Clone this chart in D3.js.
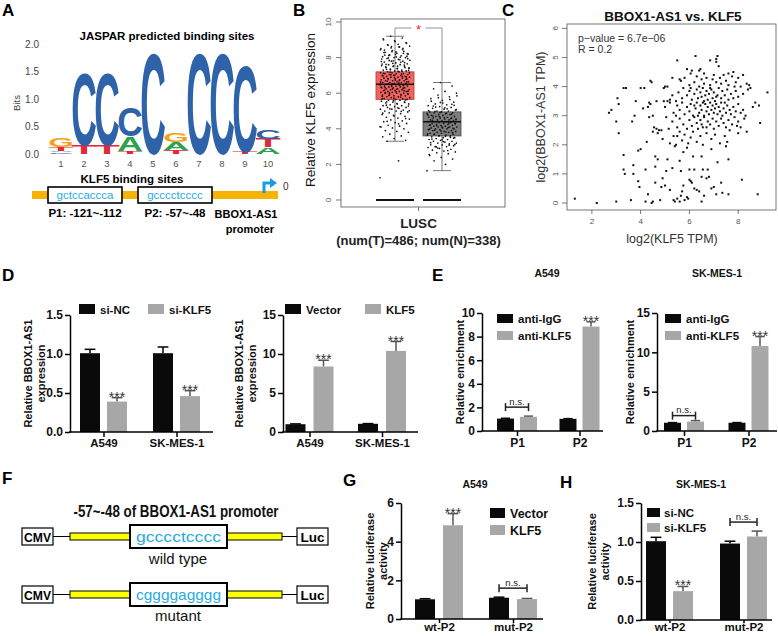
<!DOCTYPE html>
<html><head><meta charset="utf-8">
<script src="https://cdn.jsdelivr.net/npm/d3@7"></script>
<style>body{margin:0;background:#fff}svg{display:block}</style>
</head><body><svg id="c" width="778" height="636"></svg>
<script>
// ---------------- DATA ----------------
// Panel A: sequence logo (letters with information content, bottom to top)
const logoPositions = [1,2,3,4,5,6,7,8,9,10];
const logoTicks = [0, 0.5, 1.0, 1.5, 2.0];
const logoColumns = [
  [["C",0.03],["A",0.03],["T",0.06],["G",0.17]],
  [["T",0.16],["C",1.36]],
  [["T",0.16],["C",1.36]],
  [["T",0.05],["A",0.27],["C",0.53]],
  [["C",1.9]],
  [["T",0.07],["A",0.15],["G",0.16]],
  [["C",1.9]],
  [["C",1.9]],
  [["T",0.04],["C",1.62]],
  [["A",0.12],["T",0.16],["C",0.16]]
];
const siteSeqs = ["gctccaccca","gcccctcccc"];
const siteLabels = ["P1: -121~-112","P2: -57~-48"];

// Panel B: LUSC KLF5 expression (tumor vs normal)
const bGroups = ["Tumor","Normal"];
const bTicks = [0,2,4,6,8,10];
const tumorBox = [3.3, 5.65, 6.5, 7.2, 9.2];   // min, Q1, median, Q3, max
const normalBox = [1.65, 3.6, 4.4, 4.95, 6.6];
const luscTumor = [1.25,2.2,3.3,3.35,3.45,3.55,3.6,3.7,3.8,3.85,3.9,4.0,4.05,4.1,4.15,4.2,4.3,4.35,4.4,4.45,4.5,4.55,4.6,4.65,4.7,4.75,4.8,4.85,4.9,4.95,5.0,5.0,5.05,5.1,5.1,5.15,5.2,5.2,5.25,5.3,5.3,5.35,5.4,5.4,5.45,5.5,5.5,5.55,5.6,5.6,5.65,5.65,5.7,5.7,5.75,5.75,5.8,5.8,5.85,5.85,5.9,5.9,5.95,5.95,6.0,6.0,6.0,6.05,6.05,6.1,6.1,6.1,6.15,6.15,6.2,6.2,6.2,6.25,6.25,6.3,6.3,6.3,6.35,6.35,6.4,6.4,6.4,6.45,6.45,6.5,6.5,6.5,6.55,6.55,6.6,6.6,6.6,6.65,6.65,6.7,6.7,6.7,6.75,6.75,6.8,6.8,6.8,6.85,6.85,6.9,6.9,6.9,6.95,6.95,7.0,7.0,7.0,7.05,7.05,7.1,7.1,7.1,7.15,7.15,7.2,7.2,7.25,7.25,7.3,7.3,7.35,7.4,7.4,7.45,7.5,7.5,7.55,7.6,7.6,7.65,7.7,7.75,7.8,7.8,7.85,7.9,7.95,8.0,8.0,8.05,8.1,8.15,8.2,8.25,8.3,8.35,8.4,8.5,8.6,8.7,8.8,8.9,9.0,9.1,9.2,
  5.02,5.18,5.33,5.48,5.58,5.68,5.78,5.88,5.98,6.08,6.18,6.28,6.38,6.48,6.58,6.68,6.78,6.88,6.98,7.08,7.18,7.28,7.38,7.48,7.58,7.68,7.78,7.88,7.98,8.08,8.18,8.28,8.45,8.55,8.65,8.75,
  5.52,5.62,5.72,5.82,5.92,6.02,6.12,6.22,6.32,6.42,6.52,6.62,6.72,6.82,6.92,7.02,7.12,7.22,7.32,7.42,7.52,7.62,7.72,7.82,7.92,8.02,8.12,8.22,8.32,8.42,8.52,8.62,
  4.12,4.28,4.42,4.58,4.72,4.88,4.98,5.12,5.28,5.42,6.04,6.14,6.24,6.34,6.44,6.54,6.64,6.74,6.84,6.94,7.04,7.14,7.24,7.34,7.44,7.54,7.64,7.74,7.84,7.94,8.04,8.14,8.24,8.34,8.44,8.6,8.72,8.84,8.96,9.06];
const luscNormal = [1.65,2.0,2.2,2.3,2.4,2.5,2.6,2.65,2.7,2.75,2.8,2.85,2.9,2.95,3.0,3.0,3.05,3.1,3.1,3.15,3.2,3.2,3.25,3.3,3.3,3.35,3.4,3.4,3.45,3.5,3.5,3.55,3.6,3.6,3.65,3.65,3.7,3.7,3.75,3.75,3.8,3.8,3.85,3.85,3.9,3.9,3.95,3.95,4.0,4.0,4.0,4.05,4.05,4.1,4.1,4.1,4.15,4.15,4.2,4.2,4.2,4.25,4.25,4.3,4.3,4.3,4.35,4.35,4.4,4.4,4.4,4.45,4.45,4.5,4.5,4.5,4.55,4.55,4.6,4.6,4.6,4.65,4.65,4.7,4.7,4.75,4.75,4.8,4.8,4.85,4.85,4.9,4.9,4.95,4.95,5.0,5.0,5.05,5.1,5.15,5.2,5.25,5.3,5.35,5.4,5.5,5.6,5.7,5.8,5.9,6.0,6.1,6.25,6.4,6.6,
  2.55,2.78,2.98,3.12,3.28,3.42,3.52,3.62,3.72,3.82,3.92,4.02,4.12,4.22,4.32,4.42,4.52,4.62,4.72,4.82,4.92,5.02,5.12,5.22,5.32,5.45,5.55,5.65,5.75,5.85,
  3.58,3.68,3.78,3.88,3.98,4.08,4.18,4.28,4.38,4.48,4.58,4.68,4.78,4.88,4.98,3.48,3.38,3.22,3.08,2.92,5.08,5.18,5.28,5.38,5.48];

// Panel C: scatter log2(KLF5 TPM) vs log2(BBOX1-AS1 TPM)
const cXTicks = [2,4,6,8];
const cYTicks = [0,1,2,3,4,5,6];
const scatterPoints = [
[1.3,0.15],[2.2,0.0],[3.0,0.05],[2.7,3.1],[2.8,3.2],[3.0,2.8],[3.05,3.6],[3.1,2.4],[3.1,3.4],[3.3,3.95],[3.4,3.95],[3.3,1.65],[3.3,1.15],[3.35,1.0],[3.6,0.1],[3.7,1.3],[3.7,1.0],[3.65,2.8],[3.75,3.0],[3.8,3.5],[3.9,0.75],[3.95,0.55],[4.0,1.85],[4.1,3.25],[4.15,3.95],[4.2,1.15],[4.2,0.05],[4.3,0.3],[4.35,2.95],[4.35,3.45],[4.4,4.2],[4.45,4.15],[4.45,0.0],[4.5,0.05],[4.5,3.0],[4.55,2.6],[4.6,1.6],[4.6,1.25],[4.6,0.7],[4.65,3.5],[4.7,1.5],[4.7,2.4],[4.75,2.5],[4.8,0.1],[4.85,2.5],[4.85,0.55],[4.9,0.85],[4.9,2.2],[4.95,3.5],[5.0,4.0],[5.0,0.6],[5.05,1.1],[5.1,3.5],[4.4,3.4],[4.3,3.3],[4.0,3.95],[3.9,1.8],[4.25,2.1],[4.5,2.45],[4.65,2.55],
[5.5,4.9],[6.25,5.05],[6.85,4.9],[7.1,4.95],[7.15,5.05],[7.1,4.85],[5.9,4.6],[6.1,4.55],[6.4,4.55],[6.45,4.6],[6.6,4.45],[7.2,4.7],[7.8,4.5],[7.6,4.45],[6.05,4.45],
[5.6,4.25],[5.65,4.2],[5.8,4.3],[6.0,4.05],[6.2,4.15],[6.3,4.35],[6.5,4.25],[6.6,4.1],[6.7,4.3],[6.85,4.05],[6.95,4.25],[7.0,4.4],[7.1,4.15],[7.3,4.1],[7.4,4.4],[7.5,4.2],[7.6,4.05],[7.75,4.35],[7.9,4.15],[8.1,4.0],[8.2,4.4],[8.35,4.1],[8.45,4.05],[5.3,4.3],[5.1,4.0],[4.95,3.95],[6.4,4.0],[7.25,4.3],[7.85,4.0],[8.0,4.3],
[5.55,3.8],[5.7,3.6],[5.75,3.95],[5.9,3.7],[6.0,3.85],[6.1,3.55],[6.2,3.75],[6.3,3.9],[6.35,3.6],[6.45,3.8],[6.5,3.65],[6.55,3.95],[6.65,3.7],[6.7,3.85],[6.75,3.55],[6.8,3.75],[6.9,3.9],[6.95,3.6],[7.0,3.8],[7.05,3.5],[7.15,3.7],[7.2,3.95],[7.3,3.6],[7.35,3.85],[7.45,3.7],[7.55,3.9],[7.6,3.55],[7.7,3.75],[7.8,3.6],[7.9,3.85],[8.0,3.65],[8.2,3.75],[8.4,3.9],[8.5,3.95],[8.7,3.45],[9.2,3.8],[5.3,3.7],[5.2,3.55],[5.45,3.5],[6.85,3.95],[7.1,3.65],[6.05,3.95],[6.6,3.5],
[5.0,3.3],[5.2,3.45],[5.35,3.1],[5.5,3.35],[5.6,3.2],[5.7,3.45],[5.8,3.05],[5.9,3.3],[6.0,3.15],[6.05,3.4],[6.15,3.0],[6.25,3.25],[6.3,3.45],[6.4,3.1],[6.45,3.35],[6.5,3.2],[6.6,3.0],[6.65,3.4],[6.7,3.15],[6.75,3.3],[6.8,3.05],[6.85,3.45],[6.9,3.2],[6.95,3.35],[7.0,3.1],[7.05,3.25],[7.1,3.4],[7.15,3.05],[7.2,3.3],[7.25,3.15],[7.3,3.45],[7.35,3.0],[7.4,3.25],[7.5,3.1],[7.55,3.35],[7.65,3.2],[7.7,3.05],[7.8,3.3],[7.9,3.15],[8.0,3.4],[8.1,3.1],[8.2,3.2],[8.3,3.0],[8.6,3.3],[8.85,3.35],[5.45,3.0],[6.55,3.45],[6.35,3.0],[7.45,3.45],[6.2,3.35],
[5.3,2.8],[5.5,2.6],[5.6,2.9],[5.75,2.7],[5.9,2.55],[6.0,2.85],[6.1,2.65],[6.2,2.95],[6.3,2.75],[6.35,2.55],[6.45,2.85],[6.5,2.7],[6.6,2.95],[6.7,2.6],[6.75,2.8],[6.85,2.7],[6.95,2.9],[7.0,2.55],[7.1,2.8],[7.2,2.65],[7.3,2.9],[7.4,2.75],[7.5,2.6],[7.6,2.85],[7.75,2.7],[7.85,2.95],[8.0,2.8],[8.1,2.6],[8.25,2.9],[8.9,2.75],[5.05,2.95],[5.15,2.55],[6.55,2.6],[7.95,2.65],
[5.2,2.05],[5.35,2.3],[5.45,2.0],[5.6,2.45],[5.7,2.15],[5.8,2.35],[5.95,2.05],[6.05,2.25],[6.15,2.45],[6.3,2.1],[6.45,2.3],[6.55,2.0],[6.7,2.4],[6.9,2.2],[7.05,2.35],[7.25,2.05],[7.45,2.3],[7.55,2.1],[7.65,2.5],[8.0,2.4],[8.35,2.45],[5.5,2.3],[5.75,1.75],
[5.1,1.5],[5.3,1.2],[5.6,1.45],[5.65,1.1],[5.9,1.9],[6.0,1.15],[6.2,1.15],[6.5,1.6],[6.55,1.15],[6.9,1.85],[7.15,1.4],[7.6,1.5],[7.5,1.95],[5.4,1.95],[6.15,1.6],[6.75,1.15],
[5.2,0.45],[5.35,0.1],[5.4,0.05],[5.5,0.15],[5.6,0.05],[5.65,0.25],[5.7,0.4],[5.8,0.1],[5.9,0.2],[5.95,0.15],[6.0,0.8],[6.05,0.75],[6.2,0.5],[6.3,0.45],[6.4,0.4],[6.5,0.05],[6.5,0.9],[6.7,0.85],[6.8,0.9],[6.9,0.5],[7.0,0.55],[7.1,0.3],[7.35,0.35],[7.6,0.3],[8.15,0.8],[8.8,0.3],[6.1,0.7],[5.75,0.6],[6.6,0.25],[7.3,0.7]
];

// Panel D
const cellLines = ["A549","SK-MES-1"];
const d1Series = ["si-NC","si-KLF5"];
const d1Values = [[1.01,0.39],[1.01,0.46]];
const d1Errors = [[0.05,0.05],[0.08,0.07]];
const d1Ticks = [0,0.5,1.0,1.5];
const d2Series = ["Vector","KLF5"];
const d2Values = [[1.0,8.4],[1.05,10.4]];
const d2Errors = [[0.04,0.8],[0.03,1.2]];
const d2Ticks = [0,5,10,15];
// Panel E
const ePromoters = ["P1","P2"];
const eSeries = ["anti-IgG","anti-KLF5"];
const e1Values = [[1.05,1.2],[1.03,8.85]];
const e1Errors = [[0.03,0.06],[0.02,0.4]];
const e1Ticks = [0,2,4,6,8,10];
const e2Values = [[1.05,1.2],[1.05,10.8]];
const e2Errors = [[0.02,0.12],[0.02,1.2]];
const e2Ticks = [0,5,10,15];
// Panel F
const wildSeq = "gcccctcccc";
const mutSeq = "cggggagggg";
// Panel G
const gConstructs = ["wt-P2","mut-P2"];
const gSeries = ["Vector","KLF5"];
const gValues = [[1.02,4.85],[1.1,1.03]];
const gErrors = [[0.03,0.6],[0.03,0.03]];
const gTicks = [0,2,4,6];
// Panel H
const hSeries = ["si-NC","si-KLF5"];
const hValues = [[1.01,0.37],[0.98,1.07]];
const hErrors = [[0.05,0.06],[0.03,0.07]];
const hTicks = [0,0.5,1.0,1.5];

// ---------------- DRAWING ----------------
const svg = d3.select('#c');
const FONT = '"Liberation Sans", Arial, Helvetica, sans-serif';
const NARROW = '"Liberation Sans Narrow", "Arial Narrow", "Liberation Sans", sans-serif';
const letterColors = {A:"#2ba24b", C:"#2f63a9", G:"#f3a21c", T:"#e2273a"};
const CYAN = "#29abe2";
const BLACKBAR = "#0a0a0a", GREYBAR = "#a7a7a7";

function txt(x, y, s, o = {}) {
  const t = svg.append('text').attr('x', x).attr('y', y).text(s)
    .attr('font-size', o.size || 12).attr('font-weight', o.bold ? 'bold' : 'normal')
    .attr('text-anchor', o.anchor || 'start').attr('fill', o.fill || '#000')
    .attr('font-family', o.family || FONT);
  if (o.rotate) t.attr('transform', `rotate(-90,${x},${y})`);
  if (o.len) t.attr('textLength', o.len).attr('lengthAdjust', 'spacingAndGlyphs');
  return t;
}
function line(x1, y1, x2, y2, col, w) {
  return svg.append('line').attr('x1', x1).attr('y1', y1).attr('x2', x2).attr('y2', y2)
    .attr('stroke', col || '#000').attr('stroke-width', w || 1);
}

// panel letters
[["A",2,16],["B",293,16],["C",502,16],["D",2,281],["E",432,281],["F",2,484],["G",343,486],["H",560,488]]
  .forEach(([l,x,y]) => txt(x, y, l, {size: 17, bold: true}));

// ===== Panel A =====
txt(167, 40, "JASPAR predicted binding sites", {size: 11.5, bold: true, anchor: 'middle'});
const logoY = d3.scaleLinear().domain([0, 2]).range([154, 44]);
const logoX = d3.scalePoint().domain(logoPositions).range([61, 268]);
logoTicks.forEach(t => txt(39, logoY(t) + 3.5, t.toFixed(1), {size: 10, anchor: 'end', fill: '#444'}));
txt(20, 103, "Bits", {size: 9.5, anchor: 'middle', fill: '#444', rotate: true});
// logo glyphs: drawn as text, scaled to the letter's column cell
const logoG = svg.append('g').attr('class', 'logo');
function drawLetter(ch, cx, yb, w, h) {
  if (h < 0.6) return;
  const t = logoG.append('text').text(ch).attr('font-family', FONT).attr('font-weight', 'bold')
    .attr('font-size', 100).attr('fill', letterColors[ch]);
  const adv = t.node().getComputedTextLength();
  const sx = w / (0.86 * adv), sy = h / 73;
  t.attr('x', -0.07 * adv).attr('y', 0)
   .attr('transform', `translate(${cx - w / 2},${yb}) scale(${sx},${sy})`);
}
logoColumns.forEach((col, i) => {
  let acc = 0;
  col.forEach(([ch, b]) => {
    const yb = logoY(acc), yt = logoY(acc + b);
    drawLetter(ch, logoX(logoPositions[i]), yb, 22, yb - yt);
    acc += b;
  });
});
logoPositions.forEach(p => txt(logoX(p), 167, String(p), {size: 9.5, anchor: 'middle', fill: '#555'}));
txt(132, 183, "KLF5 binding sites", {size: 11.5, bold: true, anchor: 'middle'});
svg.append('rect').attr('x', 32).attr('y', 191).attr('width', 246).attr('height', 8).attr('fill', '#f4b400');
const siteX = d3.scalePoint().domain(siteSeqs).range([85, 175]);
siteSeqs.forEach((s, i) => {
  const cx = siteX(s);
  svg.append('rect').attr('x', cx - 37).attr('y', 187).attr('width', 74).attr('height', 16)
    .attr('fill', '#fff').attr('stroke', '#000').attr('stroke-width', 1.6);
  txt(cx, 199, s, {size: 11.5, anchor: 'middle', fill: CYAN});
  txt(cx, 217, siteLabels[i], {size: 11.5, bold: true, anchor: 'middle'});
});
txt(246, 218, "BBOX1-AS1", {size: 11, bold: true, anchor: 'middle'});
txt(250, 233, "promoter", {size: 11, bold: true, anchor: 'middle'});
svg.append('path').attr('d', 'M264,193 V183 H271').attr('fill', 'none').attr('stroke', '#1a9be0').attr('stroke-width', 3);
svg.append('path').attr('d', 'M270,178 L277,183 L270,188 Z').attr('fill', '#1a9be0');
txt(283, 190, "0", {size: 10, fill: '#333'});

// ===== Panel B =====
const bY = d3.scaleLinear().domain([0, 10]).range([200, 22]);
const bX = d3.scaleBand().domain(bGroups).range([376, 461]).paddingInner(9 / 47);
svg.append('rect').attr('x', 341).attr('y', 19).attr('width', 164).attr('height', 188)
  .attr('fill', 'none').attr('stroke', '#555').attr('stroke-width', 0.8);
bTicks.forEach(t => {
  line(336, bY(t), 341, bY(t), '#555', 0.8);
  txt(331, bY(t), String(t), {size: 8, anchor: 'middle', fill: '#555', rotate: true});
});
line(418.5, 207, 418.5, 211, '#555', 0.8);
txt(418.5, 228, "LUSC", {size: 13.5, bold: true, anchor: 'middle', fill: '#222'});
txt(418.5, 245, "(num(T)=486; num(N)=338)", {size: 13, bold: true, anchor: 'middle', fill: '#222'});
txt(315, 110, "Relative KLF5 expression", {size: 13.5, anchor: 'middle', fill: '#111', rotate: true});
const boxes = [{g: "Tumor", s: tumorBox, fill: "#f4625f", stroke: "#b03a3a", pts: luscTumor},
               {g: "Normal", s: normalBox, fill: "#7d7d7d", stroke: "#444", pts: luscNormal}];
boxes.forEach(b => {
  const x0 = bX(b.g), w = bX.bandwidth(), cx = x0 + w / 2;
  line(cx, bY(b.s[3]), cx, bY(b.s[4]), '#555', 0.8);
  line(cx, bY(b.s[1]), cx, bY(b.s[0]), '#555', 0.8);
  line(cx - 9, bY(b.s[4]), cx + 9, bY(b.s[4]), '#555', 0.8);
  line(cx - 9, bY(b.s[0]), cx + 9, bY(b.s[0]), '#555', 0.8);
  svg.append('rect').attr('x', x0).attr('y', bY(b.s[3])).attr('width', w).attr('height', bY(b.s[1]) - bY(b.s[3]))
    .attr('fill', b.fill).attr('stroke', b.stroke).attr('stroke-width', 0.8);
  b.pts.forEach((v, i) => {
    const j = ((i * 0.6180339) % 1) - 0.5;
    svg.append('circle').attr('cx', cx + j * 30).attr('cy', bY(v)).attr('r', 0.85).attr('fill', '#111');
  });
  line(x0, bY(b.s[2]), x0 + w, bY(b.s[2]), '#111', 1.4);
  line(x0, bY(0), x0 + w, bY(0), '#111', 2);
});
{
  const c1 = bX("Tumor") + bX.bandwidth() / 2, c2 = bX("Normal") + bX.bandwidth() / 2;
  const yb = 28;
  svg.append('path').attr('d', `M${c1},${bY(tumorBox[4]) - 1} V${yb} H${(c1 + c2) / 2 - 7} M${(c1 + c2) / 2 + 7},${yb} H${c2} V${bY(normalBox[4]) - 1}`)
    .attr('fill', 'none').attr('stroke', '#888').attr('stroke-width', 0.9);
  txt((c1 + c2) / 2, yb + 6, "*", {size: 13, anchor: 'middle', fill: '#e8272c'});
}

// ===== Panel C =====
txt(673, 21, "BBOX1-AS1 vs. KLF5", {size: 13.5, bold: true, anchor: 'middle', fill: '#111'});
const cX = d3.scaleLinear().domain([0.98, 9.55]).range([567, 776]);
const cY = d3.scaleLinear().domain([-0.24, 6.15]).range([210, 24]);
svg.append('rect').attr('x', 567).attr('y', 24).attr('width', 209).attr('height', 186)
  .attr('fill', 'none').attr('stroke', '#555').attr('stroke-width', 0.8);
cYTicks.forEach(t => {
  line(562, cY(t), 567, cY(t), '#555', 0.8);
  txt(558, cY(t), String(t), {size: 8, anchor: 'middle', fill: '#555', rotate: true});
});
cXTicks.forEach(t => {
  line(cX(t), 210, cX(t), 214, '#555', 0.8);
  txt(cX(t), 224, String(t), {size: 8, anchor: 'middle', fill: '#555'});
});
txt(672, 243, "log2(KLF5 TPM)", {size: 12.5, anchor: 'middle', fill: '#333'});
txt(545, 117, "log2(BBOX1-AS1 TPM)", {size: 12.5, anchor: 'middle', fill: '#333', rotate: true});
txt(578, 42, "p\u2212value = 6.7e\u221206", {size: 10.5, fill: '#333'});
txt(578, 53, "R = 0.2", {size: 10.5, fill: '#333'});
scatterPoints.forEach(([x, y]) => {
  svg.append('rect').attr('x', cX(x) - 1).attr('y', cY(y) - 1).attr('width', 2).attr('height', 2).attr('fill', '#111');
});

// ===== Prism-style bar charts =====
function prism(o) {
  const y = d3.scaleLinear().domain([0, o.yMax]).range([o.y0, o.yTop]);
  const xg = d3.scalePoint().domain(o.groups).range(o.centers);
  const half = o.barW + o.gap / 2;
  const xs = d3.scaleBand().domain(o.series).range([-half, half]).paddingInner(o.gap / (o.barW + o.gap)).paddingOuter(0);
  const colors = [BLACKBAR, GREYBAR];
  const tops = [];
  o.groups.forEach((gr, gi) => {
    tops[gi] = [];
    o.series.forEach((se, si) => {
      const v = o.values[gi][si], e = o.errors[gi][si];
      const x = xg(gr) + xs(se), cx = x + o.barW / 2;
      const ec = si === 0 ? '#000' : '#555';
      line(cx, y(v), cx, y(v + e), ec, 1.5);
      line(cx - o.barW * 0.27, y(v + e), cx + o.barW * 0.27, y(v + e), ec, 1.5);
      svg.append('rect').attr('x', x).attr('y', y(v)).attr('width', o.barW).attr('height', y(0) - y(v)).attr('fill', colors[si]);
      tops[gi][si] = {cx, top: y(v + e)};
    });
  });
  const ya = d3.axisLeft(y).tickValues(o.ticks).tickFormat(o.fmt).tickSize(5).tickSizeOuter(0).tickPadding(2);
  const ga = svg.append('g').attr('transform', `translate(${o.axisX},0)`).call(ya);
  ga.attr('font-family', FONT).attr('font-size', 12).attr('font-weight', 'bold');
  ga.selectAll('path,line').attr('stroke', '#000').attr('stroke-width', 1.5);
  ga.selectAll('text').attr('fill', '#111');
  line(o.axisX - 0.75, o.y0, o.axisEnd, o.y0, '#000', 1.5);
  const xa = d3.axisBottom(xg).tickSize(o.xTick || 5).tickSizeOuter(0).tickPadding(o.xPad == null ? 2 : o.xPad);
  const gx = svg.append('g').attr('transform', `translate(0,${o.y0})`).call(xa);
  gx.select('.domain').remove();
  gx.attr('font-family', FONT).attr('font-size', o.xSize || 12).attr('font-weight', 'bold');
  gx.selectAll('line').attr('stroke', '#000').attr('stroke-width', 1.5);
  gx.selectAll('text').attr('fill', '#111');
  // y label
  o.ylabel.forEach((l, i) => txt(o.ylabelX[i], (o.y0 + o.yTop) / 2, l, {size: 11, bold: true, anchor: 'middle', fill: '#111', rotate: true}));
  // stars
  (o.stars || []).forEach(([gi, si]) => {
    const t = tops[gi][si];
    txt(t.cx, t.top + 4, "***", {size: 14, anchor: 'middle', fill: '#333'});
  });
  (o.ns || []).forEach(gi => {
    const a = tops[gi][0], b = tops[gi][1];
    const yy = Math.min(a.top, b.top) - (o.nsOff || 9);
    line(a.cx, yy, b.cx, yy, '#222', 1.5);
    line(a.cx, yy - 4, a.cx, yy + 4, '#222', 1.5);
    line(b.cx, yy - 4, b.cx, yy + 4, '#222', 1.5);
    txt((a.cx + b.cx) / 2, yy - 2.5, "n.s.", {size: 9.5, anchor: 'middle', fill: '#222'});
  });
  // legend
  const L = o.legend;
  o.series.forEach((s, i) => {
    const lx = L.horizontal ? L.x[i] : L.x, ly = L.horizontal ? L.y : L.y + i * L.dy;
    svg.append('rect').attr('x', lx).attr('y', ly).attr('width', L.w).attr('height', L.h).attr('fill', colors[i]);
    txt(lx + L.w + L.pad, ly + L.h, s, {size: L.size || 11.5, bold: true, fill: '#111'});
  });
}
const f1 = d3.format('.1f'), f0 = d3.format('d');

prism({groups: cellLines, series: d1Series, values: d1Values, errors: d1Errors, yMax: 1.5, ticks: d1Ticks, fmt: f1,
  axisX: 70, axisEnd: 213, y0: 432, yTop: 315, centers: [103.5, 176.5], barW: 20, gap: 7, xSize: 11.5,
  ylabel: ["Relative BBOX1-AS1", "expression"], ylabelX: [32, 45], stars: [[0, 1], [1, 1]],
  legend: {horizontal: true, x: [79, 148], y: 304, w: 16, h: 10, pad: 5, size: 11.5}});
prism({groups: cellLines, series: d2Series, values: d2Values, errors: d2Errors, yMax: 15, ticks: d2Ticks, fmt: f0,
  axisX: 283, axisEnd: 418, y0: 432, yTop: 315, centers: [309.5, 382], barW: 20, gap: 8, xSize: 11.5,
  ylabel: ["Relative BBOX1-AS1", "expression"], ylabelX: [243, 256], stars: [[0, 1], [1, 1]],
  legend: {horizontal: true, x: [285, 365], y: 304, w: 16, h: 10, pad: 5, size: 11.5}});

txt(547, 277, "A549", {size: 10.5, bold: true, anchor: 'middle', fill: '#111'});
txt(717, 277, "SK-MES-1", {size: 10.5, bold: true, anchor: 'middle', fill: '#111'});
prism({groups: ePromoters, series: eSeries, values: e1Values, errors: e1Errors, yMax: 10, ticks: e1Ticks, fmt: f0,
  axisX: 482, axisEnd: 603, y0: 431, yTop: 313, centers: [517, 579.5], barW: 17, gap: 6,
  ylabel: ["Relative enrichment"], ylabelX: [464], stars: [[1, 1]], ns: [0],
  legend: {x: 497, y: 314, dy: 17, w: 16, h: 9, pad: 5, size: 11.5}});
prism({groups: ePromoters, series: eSeries, values: e2Values, errors: e2Errors, yMax: 15, ticks: e2Ticks, fmt: f0,
  axisX: 657, axisEnd: 777, y0: 431, yTop: 313, centers: [684, 748.5], barW: 17, gap: 6,
  ylabel: ["Relative enrichment"], ylabelX: [634], stars: [[1, 1]], ns: [0], nsOff: 5,
  legend: {x: 665, y: 314, dy: 17, w: 16, h: 9, pad: 5, size: 11.5}});

// ===== Panel F =====
txt(176, 517, "-57~-48 of BBOX1-AS1 promoter", {size: 16, bold: true, anchor: 'middle', family: NARROW, len: 205, fill: '#111'});
function construct(cl, seq, label, ly) {
  svg.append('rect').attr('x', 22).attr('y', cl - 8.5).attr('width', 31).attr('height', 17).attr('fill', '#fff').attr('stroke', '#000').attr('stroke-width', 1.2);
  txt(37.5, cl + 5, "CMV", {size: 13, bold: true, anchor: 'middle', family: NARROW, len: 27});
  line(53, cl, 70, cl, '#000', 1);
  svg.append('rect').attr('x', 70).attr('y', cl - 3.5).attr('width', 60).attr('height', 7).attr('fill', '#ffff00').attr('stroke', '#000').attr('stroke-width', 1);
  svg.append('rect').attr('x', 227).attr('y', cl - 3.5).attr('width', 55).attr('height', 7).attr('fill', '#ffff00').attr('stroke', '#000').attr('stroke-width', 1);
  svg.append('rect').attr('x', 130).attr('y', cl - 11.5).attr('width', 97).attr('height', 23).attr('fill', '#fff').attr('stroke', '#000').attr('stroke-width', 2);
  txt(178.5, cl + 5, seq, {size: 15, anchor: 'middle', fill: CYAN, len: 85});
  line(282, cl, 297, cl, '#000', 1);
  svg.append('rect').attr('x', 297).attr('y', cl - 8.5).attr('width', 31).attr('height', 17).attr('fill', '#fff').attr('stroke', '#000').attr('stroke-width', 1.2);
  txt(312.5, cl + 5, "Luc", {size: 13.5, bold: true, anchor: 'middle'});
  txt(178, ly, label, {size: 15, anchor: 'middle', family: NARROW, fill: '#111'});
}
construct(536.5, wildSeq, "wild type", 564);
construct(594.5, mutSeq, "mutant", 621);

// ===== Panel G =====
txt(475, 488, "A549", {size: 10.5, bold: true, anchor: 'middle', fill: '#111'});
prism({groups: gConstructs, series: gSeries, values: gValues, errors: gErrors, yMax: 6, ticks: gTicks, fmt: f0,
  axisX: 401, axisEnd: 543, y0: 619, yTop: 503, centers: [439, 513], barW: 20, gap: 8,
  xTick: 4, xPad: 0, xSize: 11.5,
  ylabel: ["Relative luciferase", "activity"], ylabelX: [374, 387], stars: [[0, 1]], ns: [1],
  legend: {x: 490, y: 508, dy: 17, w: 15, h: 10, pad: 5, size: 12.5}});

// ===== Panel H =====
txt(701, 488, "SK-MES-1", {size: 10.5, bold: true, anchor: 'middle', fill: '#111'});
prism({groups: gConstructs, series: hSeries, values: hValues, errors: hErrors, yMax: 1.5, ticks: hTicks, fmt: f1,
  axisX: 641, axisEnd: 772, y0: 620, yTop: 503, centers: [669.5, 743.5], barW: 20, gap: 7,
  xTick: 3, xPad: 0, xSize: 11.5,
  ylabel: ["Relative luciferase", "activity"], ylabelX: [596, 609], stars: [[0, 1]], ns: [1],
  legend: {x: 647, y: 508, dy: 15, w: 13, h: 9, pad: 4, size: 11.5}});
</script></body></html>
